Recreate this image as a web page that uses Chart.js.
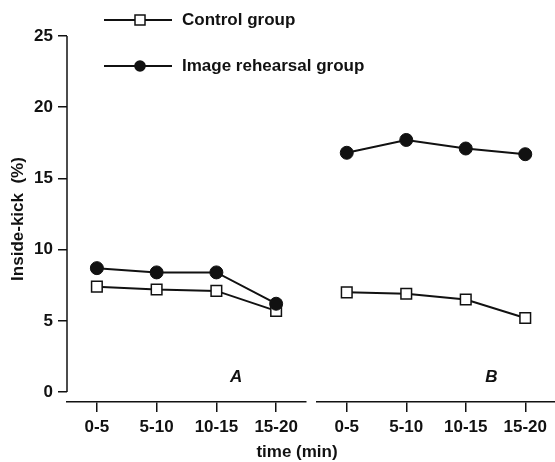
<!DOCTYPE html>
<html>
<head>
<meta charset="utf-8">
<script src="https://cdn.jsdelivr.net/npm/chart.js@4"></script>
<style>
  html, body { margin: 0; padding: 0; background: #fff; overflow: hidden; }
  #wrap { position: relative; width: 555px; height: 462px; overflow: hidden; }
  canvas { position: absolute; left: 0; top: 0; }
</style>
</head>
<body>
<div id="wrap">
  <canvas id="cA" width="555" height="462"></canvas>
  <canvas id="cB" width="620" height="462"></canvas>
</div>
<script>
const categories = ['0-5', '5-10', '10-15', '15-20'];
const controlA = [7.4, 7.2, 7.1, 5.7];
const imageA   = [8.7, 8.4, 8.4, 6.2];
const controlB = [7.0, 6.9, 6.5, 5.2];
const imageB   = [16.8, 17.7, 17.1, 16.7];
const yTicks   = [0, 5, 10, 15, 20, 25];
const seriesNames = ['Control group', 'Image rehearsal group'];
const panelNames = ['A', 'B'];
const xTitle = 'time (min)';
const yTitle = 'Inside-kick  (%)';

const FONT = "'Liberation Sans', Arial, Helvetica, sans-serif";
const INK = '#111';

function datasets(ctrl, img) {
  return [
    { label: seriesNames[0], data: ctrl, borderColor: INK, borderWidth: 2,
      pointStyle: 'rect', pointRadius: 7.5, pointBackgroundColor: '#fff',
      pointBorderColor: INK, pointBorderWidth: 1.5, order: 1, tension: 0 },
    { label: seriesNames[1], data: img, borderColor: INK, borderWidth: 2,
      pointStyle: 'circle', pointRadius: 6.5, pointBackgroundColor: INK,
      pointBorderColor: INK, pointBorderWidth: 1, order: 0, tension: 0 }
  ];
}

function xScale() {
  return {
    type: 'category',
    offset: true,
    afterFit: s => { s.height = 60; },
    grid: { drawOnChartArea: false, drawTicks: true, tickLength: 10, color: INK, lineWidth: 1.5 },
    border: { display: true, color: INK, width: 1.5 },
    ticks: { color: INK, font: { family: FONT, size: 17, weight: 'bold' }, padding: 5, maxRotation: 0, autoSkip: false }
  };
}

function yScale(show) {
  return {
    type: 'linear',
    min: -0.7, max: 25,
    display: show,
    afterFit: s => { s.width = show ? 67 : 0; },
    afterBuildTicks: s => { s.ticks = yTicks.map(v => ({ value: v })); },
    grid: { drawOnChartArea: false, drawTicks: true, tickLength: 9, color: INK, lineWidth: 1.5 },
    border: { display: false },
    ticks: { color: INK, font: { family: FONT, size: 17, weight: 'bold' }, padding: 5 },
    title: { display: show, text: yTitle, color: INK, font: { family: FONT, size: 17, weight: 'bold' }, padding: { top: 8, bottom: 0 } }
  };
}

const yAxisLine = {
  id: 'yAxisLine',
  afterDraw(chart) {
    const y = chart.scales.y;
    const x = chart.chartArea.left;
    const c = chart.ctx;
    c.save();
    c.strokeStyle = INK; c.lineWidth = 1.5;
    c.beginPath();
    c.moveTo(x, y.getPixelForValue(yTicks[yTicks.length - 1]));
    c.lineTo(x, y.getPixelForValue(yTicks[0]));
    c.stroke();
    c.restore();
  }
};

function panelLabel(name, shift) {
  return {
    id: 'panelLabel' + name,
    afterDraw(chart) {
      const c = chart.ctx;
      const xs = chart.scales.x;
      c.save();
      c.fillStyle = INK;
      c.font = 'italic bold 17px ' + FONT;
      c.textAlign = 'center'; c.textBaseline = 'middle';
      c.fillText(name, (xs.getPixelForValue(2) + xs.getPixelForValue(3)) / 2 + shift, chart.scales.y.getPixelForValue(1.05));
      c.restore();
    }
  };
}

const legendAndTitle = {
  id: 'legendAndTitle',
  afterDraw(chart) {
    const c = chart.ctx;
    c.save();
    c.fillStyle = INK; c.strokeStyle = INK;
    const rows = [20, 66];
    rows.forEach((yy, i) => {
      c.lineWidth = 2;
      c.beginPath(); c.moveTo(104, yy); c.lineTo(172, yy); c.stroke();
      if (i === 0) {
        c.fillStyle = '#fff'; c.lineWidth = 1.5;
        c.fillRect(135, yy - 5, 10, 10); c.strokeRect(135, yy - 5, 10, 10);
      } else {
        c.fillStyle = INK;
        c.beginPath(); c.arc(140, yy, 5.8, 0, Math.PI * 2); c.fill();
      }
      c.fillStyle = INK;
      c.font = 'bold 17px ' + FONT;
      c.textAlign = 'left'; c.textBaseline = 'middle';
      c.fillText(seriesNames[i], 182, yy);
    });
    c.font = 'bold 17px ' + FONT;
    c.textAlign = 'center'; c.textBaseline = 'middle';
    c.fillText(xTitle, 297, 452);
    c.restore();
  }
};

const common = {
  responsive: false,
  animation: false,
  plugins: { legend: { display: false }, tooltip: { enabled: false } }
};

new Chart(document.getElementById('cA'), {
  type: 'line',
  data: { labels: categories, datasets: datasets(controlA, imageA) },
  options: Object.assign({}, common, {
    layout: { padding: { top: 36, right: 249, left: 0, bottom: 0 } },
    scales: { x: xScale(), y: yScale(true) }
  }),
  plugins: [yAxisLine, panelLabel(panelNames[0], -10), legendAndTitle,
    { id: 'bg', beforeDraw(ch) { const c = ch.ctx; c.save(); c.fillStyle = '#fff'; c.fillRect(0, 0, ch.width, ch.height); c.restore(); } }]
});

new Chart(document.getElementById('cB'), {
  type: 'line',
  data: { labels: categories, datasets: datasets(controlB, imageB) },
  options: Object.assign({}, common, {
    layout: { padding: { top: 36, right: 65, left: 317, bottom: 0 } },
    scales: { x: xScale(), y: yScale(false) }
  }),
  plugins: [panelLabel(panelNames[1], -4)]
});
</script>
</body>
</html>
